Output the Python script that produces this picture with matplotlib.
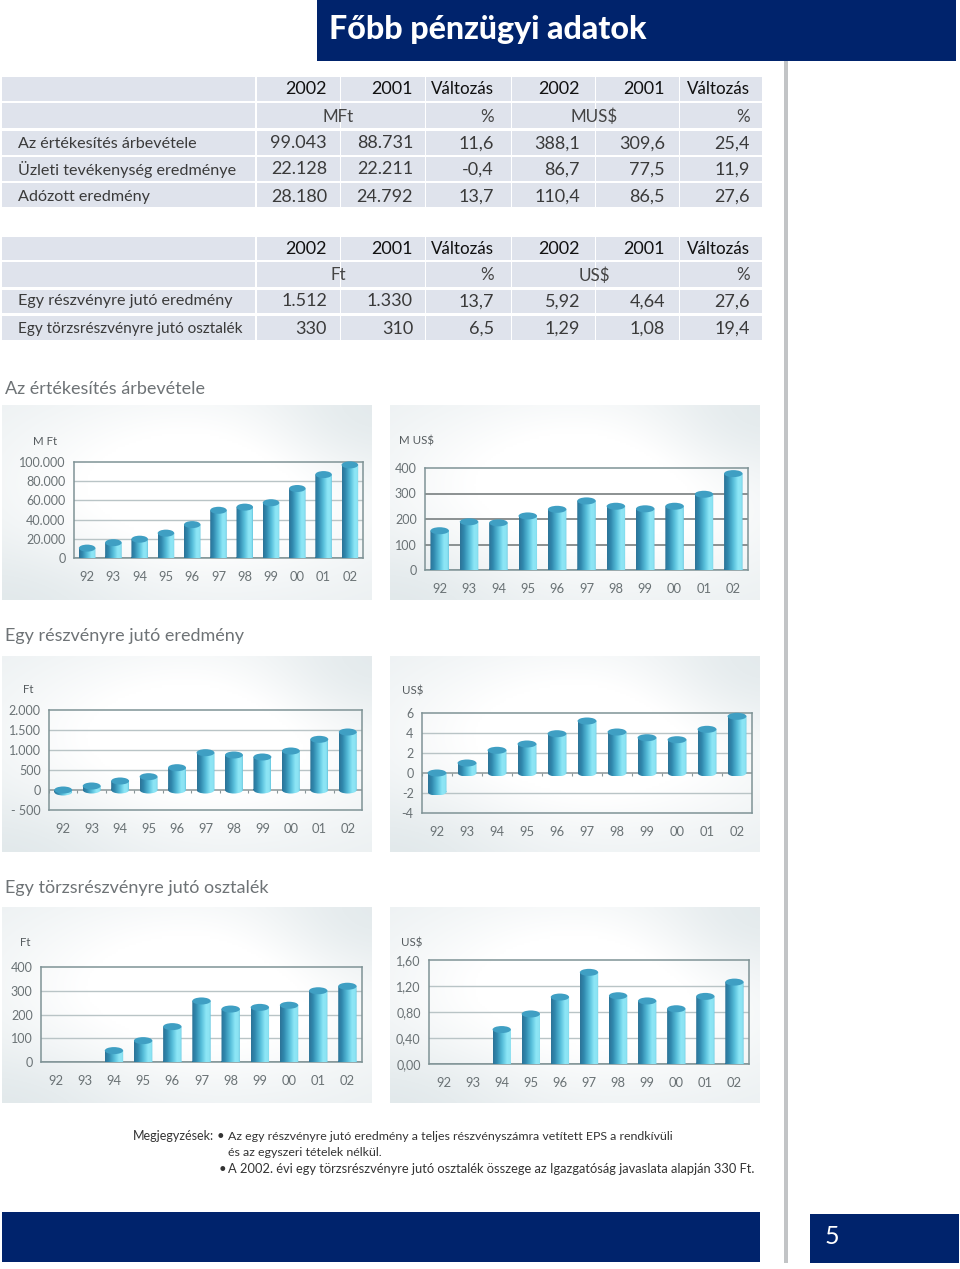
import numpy as np
import matplotlib
matplotlib.use('Agg')
import matplotlib.pyplot as plt
import matplotlib.patches as mpatches
from matplotlib.colors import LinearSegmentedColormap
from matplotlib.path import Path

W, H = 960, 1269
NAVY = '#00236c'
ROW = '#dfe3ec'

plt.rcParams['font.family'] = ['Lato', 'DejaVu Sans']

# table contents
head_1 = ['2002', '2001', 'Változás', '2002', '2001', 'Változás']
units_1 = ['MFt', '%', 'MUS$', '%']
units_2 = ['Ft', '%', 'US$', '%']
labels_1 = ['Az értékesítés árbevétele', 'Üzleti tevékenység eredménye', 'Adózott eredmény']
values_1 = [['99.043', '88.731', '11,6', '388,1', '309,6', '25,4'],
            ['22.128', '22.211', '-0,4', '86,7', '77,5', '11,9'],
            ['28.180', '24.792', '13,7', '110,4', '86,5', '27,6']]
labels_2 = ['Egy részvényre jutó eredmény', 'Egy törzsrészvényre jutó osztalék']
values_2 = [['1.512', '1.330', '13,7', '5,92', '4,64', '27,6'],
            ['330', '310', '6,5', '1,29', '1,08', '19,4']]

# chart values
years = ['92', '93', '94', '95', '96', '97', '98', '99', '00', '01', '02']
sales_huf = [10300, 16000, 19600, 25900, 34800, 49700, 53000, 57600, 72400, 86900, 97000]
sales_usd = [154, 189, 185, 212, 238, 271, 250, 240, 250, 297, 378]
eps_huf = [-50, 100, 225, 333, 558, 933, 875, 825, 975, 1267, 1450]
eps_usd = [-1.9, 1.0, 2.27, 2.9, 3.93, 5.2, 4.1, 3.53, 3.33, 4.37, 5.67]
div_huf = [0, 0, 48, 90, 149, 257, 223, 230, 239, 300, 319]
div_usd = [0, 0, 0.53, 0.77, 1.03, 1.41, 1.05, 0.97, 0.85, 1.04, 1.26]

ticks_sales_huf = [0, 20000, 40000, 60000, 80000, 100000]
labels_sales_huf = ['0', '20.000', '40.000', '60.000', '80.000', '100.000']
ticks_sales_usd = [0, 100, 200, 300, 400]
labels_sales_usd = ['0', '100', '200', '300', '400']
ticks_eps_huf = [-500, 0, 500, 1000, 1500, 2000]
labels_eps_huf = ['- 500', '0', '500', '1.000', '1.500', '2.000']
ticks_eps_usd = [-4, -2, 0, 2, 4, 6]
labels_eps_usd = ['-4', '-2', '0', '2', '4', '6']
ticks_div_huf = [0, 100, 200, 300, 400]
labels_div_huf = ['0', '100', '200', '300', '400']
ticks_div_usd = [0, 0.4, 0.8, 1.2, 1.6]
labels_div_usd = ['0,00', '0,40', '0,80', '1,20', '1,60']

cyl = LinearSegmentedColormap.from_list('cyl', [(0, '#2c7397'), (0.2, '#3089ae'), (0.5, '#58bfdb'),
                                                (0.75, '#8de6f6'), (0.92, '#8ce3f3'), (1, '#66c6df')])


def px(size):
    return size * 0.72


fig = plt.figure(figsize=(W / 100, H / 100), dpi=100)
page = fig.add_axes([0, 0, 1, 1])
page.set_xlim(0, W)
page.set_ylim(H, 0)
page.axis('off')


def box(x0, y0, x1, y1, color):
    page.add_patch(mpatches.Rectangle((x0, y0), x1 - x0, y1 - y0, fc=color, ec='none'))


def draw_table(top_rows, labels, values, head, units):
    ys, centers = top_rows
    cols = [(2, 255), (256.5, 339.5), (341, 424.5), (426, 510.5), (512, 594.5), (596, 678.5), (680, 762)]
    for y0, y1 in ys:
        for x0, x1 in cols:
            box(x0, y0, x1, y1, ROW)
    rights = [327, 413, 494, 580, 665, 750]
    for r, t in zip(rights, head):
        size = 17 if t == 'Változás' else 18
        page.text(r, centers[0] + 1.5, t, ha='right', va='center', fontsize=px(size), color='#111111')
    page.text(338, centers[1] + 1.5, units[0], ha='center', va='center', fontsize=px(17), color='#444444')
    page.text(494, centers[1] + 1.5, units[1], ha='right', va='center', fontsize=px(17), color='#444444')
    page.text(594, centers[1] + 1.5, units[2], ha='center', va='center', fontsize=px(17), color='#444444')
    page.text(750, centers[1] + 1.5, units[3], ha='right', va='center', fontsize=px(17), color='#444444')
    for i, lab in enumerate(labels):
        yc = centers[i + 2] + 1.5
        # the longest label is set a little tighter so it stays in its cell
        size = 15.4 if len(lab) > 30 else 16.1
        page.text(18, yc, lab, ha='left', va='center', fontsize=px(size), color='#3a3a3a')
        for r, t in zip(rights, values[i]):
            page.text(r, yc, t, ha='right', va='center', fontsize=px(18), color='#3a3a3a')


def panel(x0, y0, x1, y1):
    # pale marbled background with a white glow behind the bars
    yy, xx = np.mgrid[0:1:90j, 0:1:170j]
    glow = np.exp(-(((xx - 0.55) / 0.55) ** 2 + ((yy - 0.42) / 0.5) ** 2))
    corner = 0.45 * np.exp(-(((xx - 0.95) / 0.25) ** 2 + ((yy - 0.1) / 0.3) ** 2))
    low = 0.3 * np.exp(-(((xx - 0.05) / 0.3) ** 2 + ((yy - 1.0) / 0.3) ** 2))
    v = np.clip(glow - corner - low + 0.3, 0, 1)[..., None]
    rgb = (1 - v) * np.array([0.875, 0.905, 0.915]) + v * np.array([1, 1, 1])
    page.imshow(rgb, extent=(x0, x1, y1, y0), aspect='auto', zorder=1, interpolation='bilinear')
    page.set_xlim(0, W)
    page.set_ylim(H, 0)


def draw_chart(rect, vals, ticks, tick_labels, grid='#b9c4c6', gwidth=1.0):
    l, t, r, b = rect
    ax = fig.add_axes([l / W, 1 - b / H, (r - l) / W, (b - t) / H])
    ax.patch.set_visible(False)
    ax.set_xlim(-0.5, 10.5)
    ax.set_ylim(ticks[0], ticks[-1])
    y_per_px = (ticks[-1] - ticks[0]) / (b - t)
    dy = 3.5 * y_per_px
    width = 0.63

    for y in ticks[1:-1]:
        if y != 0:
            ax.axhline(y, color=grid, lw=gwidth, zorder=1)
    ax.axhline(0, color='#8a9698', lw=1.1, zorder=1)
    ax.vlines(np.arange(-0.5, 11), -2.5 * y_per_px, 0, color='#8a9698', lw=0.8, zorder=1)

    x = np.arange(len(years))
    bars = ax.bar(x, vals, width=width, color='none', edgecolor='none', zorder=2)
    grad = np.linspace(0, 1, 64)[None, :]
    for bar, v in zip(bars, vals):
        if v == 0:
            continue
        x0 = bar.get_x()
        lo, hi = min(v, 0), max(v, 0)
        foot = mpatches.Ellipse((x0 + width / 2, lo), width, 2 * dy)
        shape = Path.make_compound_path(
            Path([(x0, lo), (x0 + width, lo), (x0 + width, hi), (x0, hi), (x0, lo)], closed=True),
            foot.get_path().transformed(foot.get_patch_transform()))
        clip = mpatches.PathPatch(shape, transform=ax.transData, fc='none', ec='none')
        ax.add_patch(clip)
        clip.set_clip_on(False)
        im = ax.imshow(grad, cmap=cyl, vmin=0, vmax=1, aspect='auto', zorder=3,
                       extent=(x0, x0 + width, lo - dy, hi), interpolation='bilinear')
        im.set_clip_path(clip)
        ax.add_patch(mpatches.Ellipse((x0 + width / 2, hi), width, 2 * dy, fc='#3f9fc3',
                                      ec='none', zorder=4, clip_on=False))
    ax.set_xlim(-0.5, 10.5)
    ax.set_ylim(ticks[0], ticks[-1])

    ax.set_xticks(x, years)
    ax.set_yticks(ticks, tick_labels)
    ax.tick_params(length=0)
    ax.tick_params(axis='x', pad=9.5, labelsize=px(13), labelcolor='#6a7275')
    ax.tick_params(axis='y', pad=6, labelsize=px(12.5), labelcolor='#6a7275')
    for s in ax.spines.values():
        s.set_color('#7f9396')
        s.set_linewidth(1.1)
    return ax


# header, side rule, footer
box(317, 0, 956, 61, NAVY)
page.text(329, 30, 'Főbb pénzügyi adatok', ha='left', va='center', fontsize=px(32.2),
          fontweight='black', color='white')
box(783.5, 61, 788, 1263, '#c2c4c6')
box(2, 1212, 760, 1262, NAVY)
box(810, 1214, 959, 1263, NAVY)
page.text(832, 1237, '5', ha='center', va='center', fontsize=px(25), color='white')

draw_table(([(77, 101), (103, 128), (131, 155), (157, 181), (183, 207)], [88, 115, 142, 168, 195]),
           labels_1, values_1, head_1, units_1)
draw_table(([(237, 260), (262, 287), (290, 313), (316, 340)], [247, 274, 300, 327]),
           labels_2, values_2, head_1, units_2)

for y, t in [(388.5, 'Az értékesítés árbevétele'), (636.5, 'Egy részvényre jutó eredmény'),
             (887.5, 'Egy törzsrészvényre jutó osztalék')]:
    page.text(5, y, t, ha='left', va='center', fontsize=px(18), color='#6e7376')

panel(2, 405, 372, 600)
panel(390, 405, 760, 600)
panel(2, 656, 372, 852)
panel(390, 656, 760, 852)
panel(2, 907, 372, 1103)
panel(390, 907, 760, 1103)

draw_chart((74, 462, 363, 558), sales_huf, ticks_sales_huf, labels_sales_huf)
draw_chart((425, 468, 748, 570), sales_usd, ticks_sales_usd, labels_sales_usd, grid='#8b9192', gwidth=1.4)
draw_chart((49, 710, 362, 810), eps_huf, ticks_eps_huf, labels_eps_huf)
draw_chart((422, 713, 752, 813), eps_usd, ticks_eps_usd, labels_eps_usd)
draw_chart((41, 967, 362, 1062), div_huf, ticks_div_huf, labels_div_huf)
draw_chart((429, 960, 749, 1064), div_usd, ticks_div_usd, labels_div_usd)

for x, y, t in [(33, 441.5, 'M Ft'), (399, 441.5, 'M US$'), (23, 689.5, 'Ft'), (402, 690.5, 'US$'),
                (20, 942.5, 'Ft'), (401, 942.5, 'US$')]:
    page.text(x, y, t, ha='left', va='center', fontsize=px(11.5), color='#555b5e', zorder=5)

# notes
note = dict(ha='left', va='center', color='#333333')
page.text(133, 1136, 'Megjegyzések:', fontsize=px(12.5), **note)
page.text(217, 1136, '•', fontsize=px(13), **note)
page.text(228, 1136, 'Az egy részvényre jutó eredmény a teljes részvényszámra vetített EPS a rendkívüli',
          fontsize=px(12.35), **note)
page.text(228, 1152, 'és az egyszeri tételek nélkül.', fontsize=px(12.4), **note)
page.text(219, 1169, '•', fontsize=px(13), **note)
page.text(228, 1169, 'A 2002. évi egy törzsrészvényre jutó osztalék összege az Igazgatóság javaslata alapján 330 Ft.',
          fontsize=px(12.85), **note)

fig.savefig('out.png', dpi=100)
